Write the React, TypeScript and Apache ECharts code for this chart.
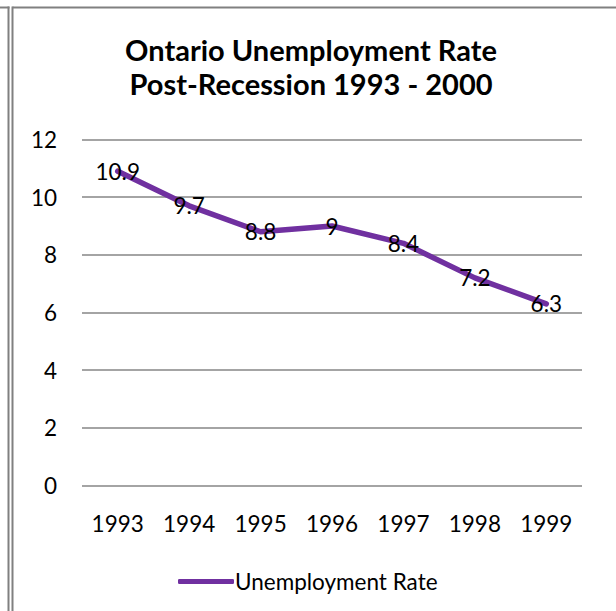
import React, { useEffect, useRef } from "react";
import * as echarts from "echarts";

const categories = ["1993", "1994", "1995", "1996", "1997", "1998", "1999"];
const rates = [10.9, 9.7, 8.8, 9, 8.4, 7.2, 6.3];
const seriesName = "Unemployment Rate";
const titleLines = ["Ontario Unemployment Rate", "Post-Recession 1993 - 2000"];

const FONT = "Lato";
const FS = 22.5;
const PURPLE = "#7030A0";
const BORDER = "#808080";

export default function App() {
  const ref = useRef<HTMLDivElement>(null);
  useEffect(() => {
    const chart = echarts.init(ref.current!, null, { renderer: "svg" });
    chart.setOption({
      animation: false,
      backgroundColor: "#ffffff",
      textStyle: { fontFamily: FONT },
      title: {
        text: titleLines.join("\n"),
        left: 306,
        textAlign: "center",
        top: 27,
        textStyle: {
          fontFamily: FONT,
          fontWeight: "bold",
          fontSize: 29,
          lineHeight: 34,
          color: "#000000",
        },
      },
      legend: {
        left: 173,
        top: 565,
        icon: "roundRect",
        itemWidth: 56,
        itemHeight: 5,
        itemGap: 5,
        textStyle: { fontFamily: FONT, fontSize: FS, color: "#000000", padding: [0, 0, 0, -4] },
        data: [{ name: seriesName, itemStyle: { color: PURPLE } }],
      },
      grid: { left: 82, right: 34, top: 139.5, bottom: 125.5, containLabel: false },
      xAxis: {
        type: "category",
        data: categories,
        boundaryGap: true,
        axisLine: { show: false },
        axisTick: { show: false },
        axisLabel: { fontFamily: FONT, fontSize: FS, color: "#000000", margin: 26 },
      },
      yAxis: {
        type: "value",
        min: 0,
        max: 12,
        interval: 2,
        axisLine: { show: false },
        axisTick: { show: false },
        axisLabel: { fontFamily: FONT, fontSize: FS, color: "#000000", margin: 25 },
        splitLine: { lineStyle: { color: "#868686", width: 1.5 } },
      },
      series: [
        {
          name: seriesName,
          type: "line",
          data: rates,
          symbol: "circle",
          symbolSize: 1,
          showSymbol: true,
          itemStyle: { color: PURPLE },
          lineStyle: { color: PURPLE, width: 5.5, cap: "round", join: "round" },
          label: {
            show: true,
            position: "inside",
            fontFamily: FONT,
            fontSize: FS,
            color: "#000000",
          },
        },
      ],
      graphic: [
        { type: "line", shape: { x1: 0, y1: 7.5, x2: 9.5, y2: 7.5 }, style: { stroke: BORDER, lineWidth: 2 } },
        { type: "line", shape: { x1: 8.5, y1: 6.5, x2: 8.5, y2: 611 }, style: { stroke: BORDER, lineWidth: 2 } },
        { type: "line", shape: { x1: 12.5, y1: 7.5, x2: 616, y2: 7.5 }, style: { stroke: BORDER, lineWidth: 2 } },
        { type: "line", shape: { x1: 12.5, y1: 6.5, x2: 12.5, y2: 611 }, style: { stroke: BORDER, lineWidth: 2 } },
      ],
    });
    return () => chart.dispose();
  }, []);
  return (
    <div
      ref={ref}
      style={{ position: "absolute", left: 0, top: 0, width: 616, height: 611 }}
    />
  );
}
